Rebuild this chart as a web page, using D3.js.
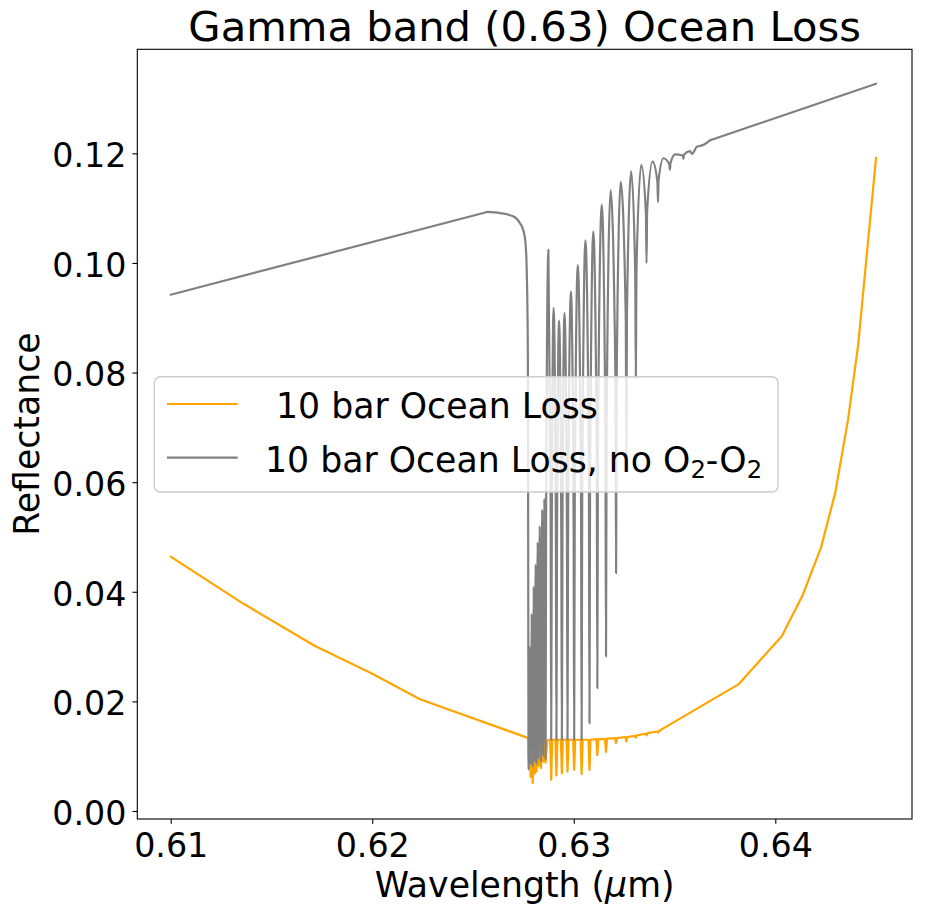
<!DOCTYPE html>
<html>
<head>
<meta charset="utf-8">
<script src="https://cdn.jsdelivr.net/npm/d3@7"></script>
<style>
  body { margin: 0; background: #fff; }
  text { font-family: "DejaVu Sans", sans-serif; fill: #000; }
</style>
</head>
<body>
<div id="chart"></div>
<script>
const xTicks = [0.61, 0.62, 0.63, 0.64];
const yTicks = [0.0, 0.02, 0.04, 0.06, 0.08, 0.1, 0.12];
const seriesColors = ["orange", "gray"];
// the absorption band where the spectrum is drawn with rounded line wings
const bandRange = [0.6257, 0.63677];

// [wavelength (um), reflectance]
const oceanLoss = [
  [0.6100, 0.0464], [0.61344, 0.0382], [0.61716, 0.0301], [0.61998, 0.0251],
  [0.62237, 0.0204], [0.62775, 0.0133],
  [0.62777, 0.0080], [0.62781, 0.0125], [0.62786, 0.0062], [0.62791, 0.0122],
  [0.62796, 0.0051], [0.62801, 0.0120], [0.62806, 0.0068], [0.62811, 0.0122],
  [0.62815, 0.0072], [0.62821, 0.0124], [0.62825, 0.0082], [0.62831, 0.0125],
  [0.62837, 0.0078], [0.62843, 0.0126], [0.62848, 0.0090], [0.62854, 0.0127],
  [0.62860, 0.0088], [0.62868, 0.0129],
  [0.62883, 0.0130], [0.62888, 0.0057], [0.62893, 0.0130],
  [0.62909, 0.0130], [0.62914, 0.0065], [0.62919, 0.0130],
  [0.62936, 0.0130], [0.62941, 0.0069], [0.62946, 0.0130],
  [0.62964, 0.0130], [0.62969, 0.0072], [0.62974, 0.0130],
  [0.62997, 0.0130], [0.63002, 0.0075], [0.63007, 0.0130],
  [0.63034, 0.0130], [0.63039, 0.0067], [0.63044, 0.0130],
  [0.63073, 0.0130], [0.63078, 0.0075], [0.63083, 0.0130],
  [0.63112, 0.0131], [0.63117, 0.0102], [0.63122, 0.0131],
  [0.63155, 0.0131], [0.63160, 0.0108], [0.63165, 0.0132],
  [0.63205, 0.0133], [0.63210, 0.0124], [0.63215, 0.0133],
  [0.63256, 0.0135], [0.63261, 0.0127], [0.63266, 0.0135],
  [0.63303, 0.0137], [0.63308, 0.0134], [0.63313, 0.0138],
  [0.63356, 0.0141], [0.63361, 0.0138], [0.63366, 0.0142],
  [0.63413, 0.0145], [0.63418, 0.0143], [0.63423, 0.0146],
  [0.63478, 0.0158], [0.63817, 0.0231], [0.64032, 0.0319], [0.64135, 0.0393],
  [0.64227, 0.0481], [0.64297, 0.0580], [0.64361, 0.0714], [0.64411, 0.0850],
  [0.64500, 0.1192]
];

const oceanLossNoO2O2 = [
  [0.6100, 0.0942], [0.62570, 0.1093], [0.62634, 0.1091], [0.62699, 0.1085],
  [0.62734, 0.1072], [0.62751, 0.1058], [0.62761, 0.1035], [0.62767, 0.0980],
  [0.62772, 0.0850],
  [0.62776, 0.0075], [0.62781, 0.0300], [0.62786, 0.0085], [0.62791, 0.0360],
  [0.62796, 0.0080], [0.62801, 0.0410], [0.62806, 0.0090], [0.62811, 0.0450],
  [0.62815, 0.0085], [0.62821, 0.0490], [0.62825, 0.0095], [0.62831, 0.0520],
  [0.62837, 0.0090], [0.62843, 0.0550], [0.62848, 0.0100], [0.62854, 0.0570],
  [0.62860, 0.0095], [0.62863, 0.0560],
  [0.62874, 0.1024],
  [0.62885, 0.0577], [0.62888, 0.0130], [0.62891, 0.0524],
  [0.62900, 0.0918],
  [0.62911, 0.0524], [0.62914, 0.0130], [0.62917, 0.0513],
  [0.62927, 0.0895],
  [0.62938, 0.0513], [0.62941, 0.0130], [0.62944, 0.0520],
  [0.62954, 0.0909],
  [0.62966, 0.0520], [0.62969, 0.0130], [0.62972, 0.0539],
  [0.62986, 0.0948],
  [0.62999, 0.0539], [0.63002, 0.0130], [0.63005, 0.0563],
  [0.63020, 0.0996],
  [0.63036, 0.0563], [0.63039, 0.0130], [0.63042, 0.0586],
  [0.63058, 0.1041],
  [0.63075, 0.0601], [0.63078, 0.0160], [0.63081, 0.0609],
  [0.63097, 0.1057],
  [0.63114, 0.0641], [0.63117, 0.0224], [0.63120, 0.0665],
  [0.63139, 0.1106],
  [0.63157, 0.0694], [0.63160, 0.0282], [0.63163, 0.0708],
  [0.63183, 0.1133],
  [0.63207, 0.0784], [0.63210, 0.0434], [0.63213, 0.0791],
  [0.63233, 0.1148],
  [0.63258, 0.0899], [0.63261, 0.0650], [0.63264, 0.0909],
  [0.63285, 0.1167],
  [0.63305, 0.0979], [0.63308, 0.0790], [0.63311, 0.0985],
  [0.63335, 0.1179],
  [0.63358, 0.1090], [0.63361, 0.1000], [0.63364, 0.1093],
  [0.63391, 0.1185],
  [0.63415, 0.1148], [0.63418, 0.1111], [0.63421, 0.1151],
  [0.63445, 0.1191],
  [0.63474, 0.1180], [0.63477, 0.1170], [0.63480, 0.1182],
  [0.63503, 0.1198],
  [0.63541, 0.1196], [0.63544, 0.1190], [0.63547, 0.1198],
  [0.63577, 0.1204], [0.63587, 0.1199],
  [0.63611, 0.1212], [0.63642, 0.1215], [0.63677, 0.1224], [0.6450, 0.1327]
];

const canvasWidth = 925;
const canvasHeight = 916;
const margin = { top: 49.3, right: 13, bottom: 97, left: 137.3 };
const width = canvasWidth - margin.left - margin.right;
const height = canvasHeight - margin.top - margin.bottom;

const tickFont = 33.3;
const labelFont = 34.7;
const subFont = 24.3;
const tickLen = 4.86;
const lineWidth = 2.2;

const svg = d3
  .select("#chart")
  .append("svg")
  .attr("width", canvasWidth)
  .attr("height", canvasHeight);

svg.append("rect").attr("width", canvasWidth).attr("height", canvasHeight).attr("fill", "#fff");

const plot = svg.append("g").attr("transform", `translate(${margin.left},${margin.top})`);

const x = d3.scaleLinear().domain([0.608343, 0.646783]).range([0, width]);
const y = d3.scaleLinear().domain([-0.00146, 0.13898]).range([height, 0]);

// axes
const xAxis = plot
  .append("g")
  .attr("transform", `translate(0,${height})`)
  .call(
    d3.axisBottom(x).tickValues(xTicks).tickFormat(d3.format(".2f"))
      .tickSize(tickLen).tickPadding(9).tickSizeOuter(0)
  );
const yAxis = plot
  .append("g")
  .call(
    d3.axisLeft(y).tickValues(yTicks).tickFormat(d3.format(".2f"))
      .tickSize(tickLen).tickPadding(6).tickSizeOuter(0)
  );
[xAxis, yAxis].forEach((g) => {
  g.select(".domain").remove();
  g.selectAll(".tick line").attr("stroke", "#000").attr("stroke-width", 1.1);
  g.selectAll(".tick text")
    .attr("fill", "#000")
    .style("font-family", "'DejaVu Sans', sans-serif")
    .style("font-size", tickFont + "px");
});
yAxis.selectAll(".tick text").attr("dy", "0.4em");

// spectra
const lineLinear = d3.line().x((d) => x(d[0])).y((d) => y(d[1]));
const lineSmooth = d3.line().x((d) => x(d[0])).y((d) => y(d[1])).curve(d3.curveMonotoneX);

function drawPath(points, gen, color) {
  plot
    .append("path")
    .datum(points)
    .attr("d", gen)
    .attr("fill", "none")
    .attr("stroke", color)
    .attr("stroke-width", lineWidth)
    .attr("stroke-linejoin", "round")
    .attr("stroke-linecap", "round");
}

drawPath(oceanLoss, lineLinear, seriesColors[0]);

// straight continuum on both sides, rounded wings inside the band
const [b0, b1] = bandRange;
drawPath(oceanLossNoO2O2.filter((d) => d[0] <= b0), lineLinear, seriesColors[1]);
drawPath(oceanLossNoO2O2.filter((d) => d[0] >= b0 && d[0] <= b1), lineSmooth, seriesColors[1]);
drawPath(oceanLossNoO2O2.filter((d) => d[0] >= b1), lineLinear, seriesColors[1]);

// frame
plot
  .append("rect")
  .attr("width", width)
  .attr("height", height)
  .attr("fill", "none")
  .attr("stroke", "#000")
  .attr("stroke-width", 1.1);

// title and labels
svg
  .append("text")
  .attr("x", margin.left + width / 2)
  .attr("y", 41)
  .attr("text-anchor", "middle")
  .style("font-size", "41.7px")
  .text("Gamma band (0.63) Ocean Loss");

const xLabel = svg
  .append("text")
  .attr("x", margin.left + width / 2)
  .attr("y", 896.5)
  .attr("text-anchor", "middle")
  .style("font-size", labelFont + "px");
xLabel.append("tspan").text("Wavelength (");
xLabel.append("tspan").style("font-style", "italic").text("\u03bc");
xLabel.append("tspan").text("m)");

svg
  .append("text")
  .attr("transform", `translate(39,${margin.top + height / 2}) rotate(-90)`)
  .attr("text-anchor", "middle")
  .style("font-size", labelFont + "px")
  .text("Reflectance");

// legend
const legend = svg.append("g");
legend
  .append("rect")
  .attr("x", 154.3)
  .attr("y", 376.7)
  .attr("width", 623.7)
  .attr("height", 115.3)
  .attr("rx", 6)
  .attr("fill", "#fff")
  .attr("fill-opacity", 0.8)
  .attr("stroke", "#cccccc")
  .attr("stroke-width", 1.39);

const rowY = [404, 457.7];
rowY.forEach((ry, i) => {
  legend
    .append("line")
    .attr("x1", 167)
    .attr("x2", 237.7)
    .attr("y1", ry)
    .attr("y2", ry)
    .attr("stroke", seriesColors[i])
    .attr("stroke-width", lineWidth);
});

legend
  .append("text")
  .attr("x", 265)
  .attr("y", 418.3)
  .style("font-size", labelFont + "px")
  .style("white-space", "pre")
  .text(" 10 bar Ocean Loss");

const label2 = legend
  .append("text")
  .attr("x", 265)
  .attr("y", 471.7)
  .style("font-size", labelFont + "px");
label2.append("tspan").text("10 bar Ocean Loss, no O");
label2.append("tspan").attr("dy", 5.8).style("font-size", subFont + "px").text("2");
label2.append("tspan").attr("dy", -5.8).text("-O");
label2.append("tspan").attr("dy", 5.8).style("font-size", subFont + "px").text("2");
</script>
</body>
</html>
